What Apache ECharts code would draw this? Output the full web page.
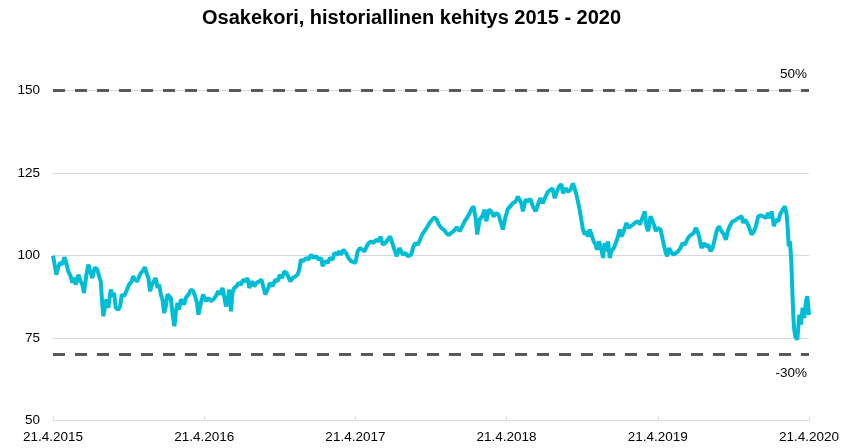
<!DOCTYPE html>
<html>
<head>
<meta charset="utf-8">
<script src="https://cdn.jsdelivr.net/npm/echarts@6/dist/echarts.min.js"></script>
<style>html,body{margin:0;padding:0;background:#fff}#c{width:846px;height:448px}</style>
</head>
<body>
<div id="c"></div>
<script>
const title = 'Osakekori, historiallinen kehitys 2015 - 2020';
const xTickLabels = ['21.4.2015','21.4.2016','21.4.2017','21.4.2018','21.4.2019','21.4.2020'];
const yTicks = [50, 75, 100, 125, 150];
const refLevels = [150, 70];
const refLabels = ['50%', '-30%'];
// time in years since 21.4.2015
const t = [0,0.007,0.022,0.035,0.046,0.062,0.075,0.088,0.101,0.117,0.128,0.139,0.150,0.168,0.183,0.194,0.205,0.221,0.234,0.247,0.260,0.276,0.293,0.305,0.316,0.326,0.333,0.344,0.353,0.366,0.382,0.393,0.404,0.415,0.432,0.444,0.455,0.470,0.485,0.503,0.521,0.530,0.543,0.558,0.570,0.581,0.596,0.609,0.618,0.631,0.642,0.654,0.669,0.680,0.691,0.702,0.713,0.724,0.735,0.746,0.757,0.768,0.779,0.790,0.803,0.813,0.823,0.834,0.846,0.856,0.868,0.879,0.896,0.912,0.927,0.940,0.952,0.962,0.978,0.993,
1.012,1.028,1.044,1.060,1.077,1.093,1.104,1.121,1.132,1.144,1.154,1.166,1.177,1.187,1.199,1.214,1.227,1.243,1.258,1.272,1.287,1.298,1.316,1.331,1.346,1.364,1.379,1.393,1.404,1.419,1.435,1.452,1.470,1.485,1.501,1.515,1.530,1.545,1.558,1.570,1.585,1.603,1.618,1.629,1.640,1.656,1.674,1.691,1.707,1.722,1.740,1.757,1.773,1.783,1.801,1.817,1.832,1.850,1.861,1.876,1.894,1.905,1.921,1.938,1.954,1.972,1.982,
2.000,2.015,2.031,2.044,2.060,2.075,2.088,2.104,2.119,2.137,2.154,2.166,2.181,2.197,2.214,2.230,2.243,2.258,2.274,2.291,2.303,2.313,2.331,2.346,2.358,2.369,2.384,2.397,2.413,2.428,2.442,2.457,2.472,2.490,2.508,2.523,2.538,2.552,2.568,2.583,2.601,2.616,2.634,2.649,2.662,2.671,2.689,2.707,2.722,2.737,2.750,2.766,2.781,2.795,2.806,2.821,2.839,2.854,2.866,2.883,2.899,2.914,2.932,2.947,2.960,2.975,2.991,
3.008,3.024,3.041,3.060,3.075,3.086,3.097,3.108,3.126,3.141,3.157,3.174,3.192,3.207,3.223,3.240,3.258,3.274,3.289,3.303,3.318,3.333,3.346,3.362,3.373,3.391,3.406,3.422,3.439,3.450,3.462,3.472,3.483,3.494,3.505,3.517,3.528,3.538,3.550,3.561,3.576,3.589,3.598,3.611,3.627,3.638,3.649,3.660,3.671,3.682,3.693,3.709,3.722,3.737,3.748,3.760,3.775,3.793,3.803,3.819,3.837,3.854,3.869,3.881,3.898,3.914,3.925,3.936,3.952,3.965,3.974,3.987,
4.002,4.018,4.031,4.040,4.053,4.062,4.075,4.091,4.106,4.119,4.134,4.150,4.164,4.179,4.194,4.207,4.223,4.238,4.252,4.263,4.273,4.289,4.305,4.318,4.333,4.349,4.362,4.373,4.389,4.404,4.415,4.428,4.437,4.450,4.466,4.481,4.495,4.510,4.525,4.538,4.554,4.565,4.576,4.591,4.605,4.620,4.636,4.649,4.664,4.680,4.697,4.715,4.730,4.742,4.753,4.768,4.781,4.797,4.808,4.826,4.841,4.852,4.859,4.866,4.874,4.883,4.889,4.896,4.901,4.909,4.923,4.929,4.936,4.947,4.958,4.969,4.980,4.989,4.996,5.000];
const v = [100,98.3,94.2,96.4,97.9,97.3,99.5,97.8,95.2,93.7,91.8,93.3,91.2,94.2,92.2,91.2,88.7,94.2,97.3,95.2,93.2,96.3,95.8,93.7,92.2,85.2,81.6,84.6,86.7,84.2,89.7,87.7,88.7,84.2,83.6,84.6,88.2,87.7,89.2,91.2,92.2,93.7,92.7,92.2,93.7,94.7,95.5,96.5,94.7,93.2,89.2,91.2,92.4,93.2,90.2,91.2,88.2,86.7,82.6,84.6,88.2,88.7,87.2,82.6,78.6,83.1,85.7,83.6,86.7,86.2,85.2,87.2,88.2,89.7,89.2,87.7,85.7,82.1,85.7,88.2,
86.2,87.2,86.2,86.7,87.7,89.2,88.2,90.2,87.7,84.6,86.2,89.7,83.1,88.7,90.2,90.7,91.7,91.2,92.7,92.2,93.2,90.2,92.2,90.7,91.7,92.2,92.7,90.2,88.2,89.7,91.7,90.7,92.7,92.2,94.2,93.2,95.2,94.7,95.2,92.2,93.2,93.7,94.2,95.8,98.8,98.3,99.3,98.8,100.3,99.3,99.8,98.8,99.3,96.8,98.3,97.8,99.3,98.8,100.8,100.3,101.3,100.3,101.8,100.8,99.3,98.3,98.1,
97.8,101.3,102.3,102.8,101.3,102.8,103.8,104.3,103.8,104.8,104.3,105.8,103.3,103.8,104.8,105.8,105.3,101.8,99.8,102.3,101.3,100.3,100.8,99.8,99.3,100.3,102.8,103.8,103.3,104.8,106.4,107.4,108.4,109.9,110.9,111.6,110.9,109.4,108.4,107.9,106.9,106.2,106.9,107.4,106.9,108.6,107.4,108.9,110.4,111.4,112.4,113.9,114.9,111.4,106.4,110.9,111.9,113.9,110.4,113.9,113.4,111.9,112.9,112.4,112.9,107.9,111.4,
114.1,114.9,115.9,116.4,117.9,118.4,115.9,113.4,117.0,116.4,117.2,114.9,113.4,115.4,117.4,115.9,117.9,119.4,119.9,120.4,117.4,119.4,120.9,121.7,118.9,120.4,119.4,119.9,121.9,120.4,118.4,116.4,113.9,110.9,107.9,106.4,107.4,105.8,107.9,106.4,104.3,103.3,101.8,104.3,101.8,99.3,103.8,101.3,104.3,99.3,101.3,102.3,103.8,105.8,107.9,105.8,107.4,109.9,108.4,108.9,109.4,110.1,110.4,109.4,111.4,113.4,108.9,107.4,111.9,111.8,109.4,107.4,
108.4,107.9,107.4,103.3,100.8,99.8,102.3,100.8,100.3,99.8,101.3,102.3,103.8,103.3,104.8,105.8,106.4,106.9,108.4,107.4,105.8,102.3,103.8,102.8,103.3,101.3,102.3,104.3,107.4,108.9,107.9,108.4,106.4,104.8,107.9,109.4,110.4,110.6,111.2,110.9,111.9,109.9,110.9,109.9,108.4,106.4,107.4,108.9,111.9,112.2,111.9,111.4,112.9,111.4,113.4,108.9,110.9,110.4,112.4,113.9,114.9,112.4,108.4,102.8,104.3,98.3,90.2,82.1,78.1,75.5,74.5,78.1,82.1,79.1,84.2,81.1,86.2,87.7,84.0,82.0];

const seriesData = t.map((x, i) => [x, v[i]]);
const font = 'Arial, "Liberation Sans", sans-serif';

const chart = echarts.init(document.getElementById('c'), null, {renderer: 'canvas'});
chart.setOption({
  animation: false,
  backgroundColor: '#ffffff',
  title: {
    text: title, left: 197, top: 3,
    textStyle: {fontFamily: font, fontSize: 20, fontWeight: 'bold', color: '#000'}
  },
  grid: {left: 53, right: 37, top: 90.7, bottom: 27.5, containLabel: false},
  xAxis: {
    type: 'value', min: 0, max: 5, interval: 1,
    axisLine: {show: true, lineStyle: {color: '#d9d9d9', width: 1}},
    axisTick: {show: true, inside: true, length: 4, lineStyle: {color: '#d9d9d9'}},
    splitLine: {show: false},
    axisLabel: {
      fontFamily: font, fontSize: 13.5, color: '#000', margin: 10,
      formatter: (val) => xTickLabels[Math.round(val)]
    }
  },
  yAxis: {
    type: 'value', min: yTicks[0], max: yTicks[yTicks.length - 1], interval: 25,
    axisLine: {show: false}, axisTick: {show: false},
    splitLine: {show: true, lineStyle: {color: '#d9d9d9', width: 1}},
    axisLabel: {fontFamily: font, fontSize: 13.5, color: '#000', margin: 13}
  },
  series: [{
    type: 'line',
    data: seriesData,
    showSymbol: false,
    symbol: 'none',
    lineStyle: {color: '#00BDD6', width: 4},
    z: 3,
    markLine: {
      silent: true,
      symbol: ['none', 'none'],
      lineStyle: {color: '#595959', width: 3, type: [12, 10]},
      data: refLevels.map((lv, i) => ({
        yAxis: lv,
        label: {
          show: true,
          formatter: refLabels[i],
          position: i === 0 ? 'insideEndTop' : 'insideEndBottom',
          fontFamily: font, fontSize: 13.5, color: '#000',
          distance: i === 0 ? [2, 9] : [2, 12]
        }
      }))
    }
  }]
});
</script>
</body>
</html>
